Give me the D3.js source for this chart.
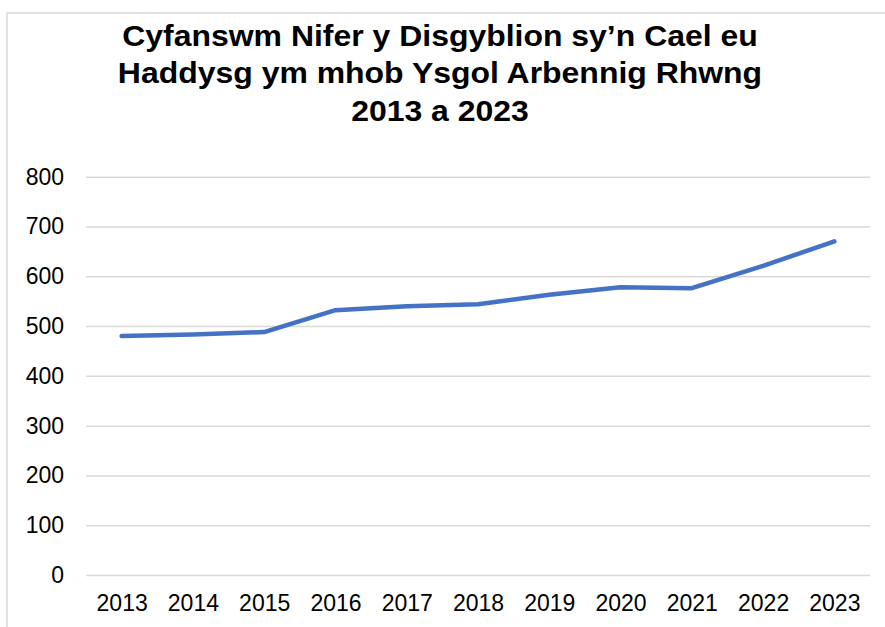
<!DOCTYPE html>
<html>
<head>
<meta charset="utf-8">
<script src="https://cdn.jsdelivr.net/npm/d3@7"></script>
<style>
  body { margin: 0; background: #fff; }
  text { font-family: "Liberation Sans", Arial, sans-serif; fill: #000; }
</style>
</head>
<body>
<div id="chart"></div>
<script>
// Chart data
const years  = ["2013", "2014", "2015", "2016", "2017", "2018", "2019", "2020", "2021", "2022", "2023"];
const pupils = [480, 483, 488, 532, 540, 544, 563, 578, 576, 621, 670];
const yTicks = [0, 100, 200, 300, 400, 500, 600, 700, 800];
const titleLines = [
  "Cyfanswm Nifer y Disgyblion sy\u2019n Cael eu",
  "Haddysg ym mhob Ysgol Arbennig Rhwng",
  "2013 a 2023"
];

const config = {
  width     : 885,
  height    : 627,
  left      : 86,
  right     : 870,
  top       : 176.7,
  bottom    : 575,
  lineColor : "#4472C4",
  gridColor : "#d9d9d9"
};

const svg = d3.select("#chart")
  .append("svg")
    .attr("width", config.width)
    .attr("height", config.height);

// chart area border
svg.append("rect")
  .attr("x", 7).attr("y", 13)
  .attr("width", config.width + 20).attr("height", config.height + 20)
  .attr("fill", "none")
  .attr("stroke", config.gridColor)
  .attr("stroke-width", 1.5);

// title (a bit wider than the font's own shape, like the original)
svg.append("g")
  .attr("transform", "translate(440,0) scale(1.065,1)")
  .append("text")
  .attr("text-anchor", "middle")
  .style("font-size", "30px")
  .style("font-weight", "bold")
  .selectAll("tspan")
  .data(titleLines)
  .enter()
    .append("tspan")
    .attr("x", 0)
    .attr("y", (d, i) => 46 + i * 37.5)
    .text(d => d);

const x = d3.scalePoint()
  .domain(years)
  .range([config.left, config.right])
  .padding(0.5);

const y = d3.scaleLinear()
  .domain([0, 800])
  .range([config.bottom, config.top]);

// gridlines + y labels
const yAxis = svg.append("g")
  .attr("transform", "translate(" + config.left + ",0)")
  .call(d3.axisLeft(y).tickValues(yTicks).tickSize(-(config.right - config.left)).tickPadding(22));

yAxis.select(".domain").remove();
yAxis.selectAll(".tick line")
  .attr("stroke", config.gridColor)
  .attr("stroke-width", 1.5);
yAxis.selectAll(".tick text")
  .style("font-size", "23px")
  .style("font-family", "Liberation Sans, Arial, sans-serif")
  .attr("fill", "#000");

// x labels
const xAxis = svg.append("g")
  .attr("transform", "translate(0," + config.bottom + ")")
  .call(d3.axisBottom(x).tickSize(0).tickPadding(20));

xAxis.select(".domain").remove();
xAxis.selectAll(".tick text")
  .style("font-size", "23px")
  .style("font-family", "Liberation Sans, Arial, sans-serif")
  .attr("fill", "#000");

// the line
const line = d3.line()
  .x((d, i) => x(years[i]))
  .y(d => y(d));

svg.append("path")
  .datum(pupils)
  .attr("d", line)
  .attr("fill", "none")
  .attr("stroke", config.lineColor)
  .attr("stroke-width", 4.5)
  .attr("stroke-linecap", "round")
  .attr("stroke-linejoin", "round");
</script>
</body>
</html>
